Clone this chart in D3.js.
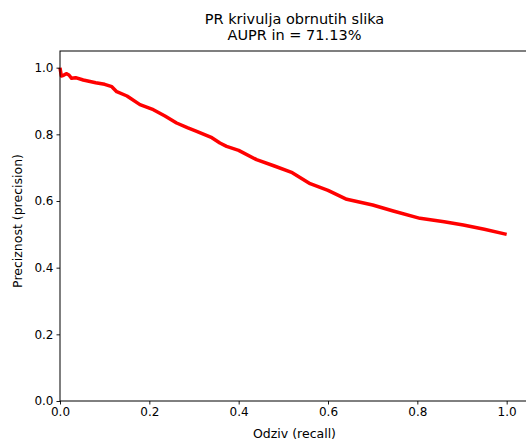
<!DOCTYPE html>
<html>
<head>
<meta charset="utf-8">
<script src="https://cdn.jsdelivr.net/npm/d3@7"></script>
<style>
  body { margin: 0; background: #fff; }
  svg text { font-family: "DejaVu Sans", sans-serif; fill: #000; }
</style>
</head>
<body>
<div id="chart"></div>
<script>
// PR curve
const recall = [0, 0.003, 0.008, 0.014, 0.02, 0.026, 0.035, 0.052, 0.08, 0.1, 0.116, 0.127,
  0.15, 0.179, 0.209, 0.235, 0.261, 0.285, 0.306, 0.34, 0.358, 0.373, 0.4, 0.44,
  0.48, 0.52, 0.56, 0.6, 0.642, 0.7, 0.746, 0.806, 0.86, 0.903, 0.95, 1.0];
const precision = [1.0, 0.975, 0.977, 0.982, 0.978, 0.968, 0.97, 0.963, 0.955, 0.95, 0.943, 0.928,
  0.915, 0.889, 0.874, 0.855, 0.834, 0.82, 0.809, 0.79, 0.774, 0.764, 0.752, 0.724,
  0.705, 0.685, 0.652, 0.632, 0.605, 0.588, 0.57, 0.548, 0.538, 0.528, 0.515, 0.5];
const ticks = [0, 0.2, 0.4, 0.6, 0.8, 1.0];
const titleLines = ['PR krivulja obrnutih slika', 'AUPR in = 71.13%'];

const width = 526, height = 441;
const margin = { top: 51, right: -3, bottom: 40, left: 60 };
const chartWidth = width - margin.left - margin.right;
const chartHeight = height - margin.top - margin.bottom;

const svg = d3.select('#chart').append('svg')
  .attr('width', width)
  .attr('height', height);

const g = svg.append('g')
  .attr('transform', `translate(${margin.left},${margin.top})`);

const x = d3.scaleLinear().domain([0, 1.05]).range([0, chartWidth]);
const y = d3.scaleLinear().domain([0, 1.05]).range([chartHeight, 0]);

const points = recall.map((r, i) => ({ r, p: precision[i] }));

const line = d3.line()
  .x(d => x(d.r))
  .y(d => y(d.p));

g.append('path')
  .datum(points)
  .attr('fill', 'none')
  .attr('stroke', '#ff0000')
  .attr('stroke-width', 3.5)
  .attr('stroke-linejoin', 'round')
  .attr('d', line);

const xAxis = d3.axisBottom(x).tickValues(ticks).tickFormat(d3.format('.1f'))
  .tickSizeOuter(0).tickSize(3.5).tickPadding(3);
const yAxis = d3.axisLeft(y).tickValues(ticks).tickFormat(d3.format('.1f'))
  .tickSizeOuter(0).tickSize(3.5).tickPadding(3);

const gx = g.append('g')
  .attr('transform', `translate(0,${chartHeight})`)
  .call(xAxis);
const gy = g.append('g').call(yAxis);

[gx, gy].forEach(a => {
  a.select('.domain').remove();
  a.selectAll('line').attr('stroke', '#000').attr('stroke-width', 0.9);
  a.selectAll('text').style('font-size', '12px').attr('fill', '#000');
});

// frame
g.append('rect')
  .attr('x', 0).attr('y', 0)
  .attr('width', chartWidth).attr('height', chartHeight)
  .attr('fill', 'none')
  .attr('stroke', '#000')
  .attr('stroke-width', 1);

const cx = margin.left + chartWidth / 2;

svg.selectAll('.title')
  .data(titleLines)
  .enter()
  .append('text')
  .attr('class', 'title')
  .attr('x', cx)
  .attr('y', (d, i) => 24 + i * 16)
  .attr('text-anchor', 'middle')
  .style('font-size', '14.5px')
  .text(d => d);

svg.append('text')
  .attr('x', cx)
  .attr('y', 437.5)
  .attr('text-anchor', 'middle')
  .style('font-size', '12.5px')
  .text('Odziv (recall)');

svg.append('text')
  .attr('transform', 'translate(22,221) rotate(-90)')
  .attr('text-anchor', 'middle')
  .style('font-size', '12.5px')
  .text('Preciznost (precision)');
</script>
</body>
</html>
